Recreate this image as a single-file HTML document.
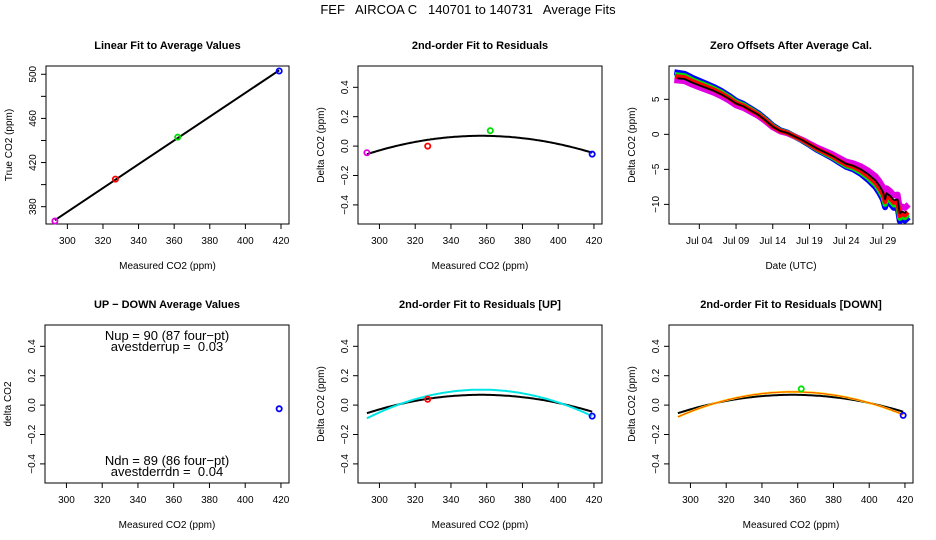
<!DOCTYPE html>
<html><head><meta charset="utf-8">
<style>
html,body{margin:0;padding:0;background:#fff;}
svg{display:block;font-family:"Liberation Sans",Arial,sans-serif;}
svg text{white-space:pre;}
</style></head>
<body>
<svg id="chart" width="936" height="540" viewBox="0 0 936 540" xmlns="http://www.w3.org/2000/svg" xml:space="preserve">
<rect width="936" height="540" fill="#fff"/>
<text x="468" y="14" font-size="13" text-anchor="middle">FEF   AIRCOA C   140701 to 140731   Average Fits</text>
</svg>
<script>
// ---- data ----
const linMeasured = [293, 327, 362, 419];
const linTrue = [367, 405, 443, 503];
const ptColors = ['#e000e0', '#ff0000', '#00e000', '#0000ff'];
const resMeasured = [293, 327, 362, 419];
const resValues = [-0.045, 0.0, 0.105, -0.055];
const fitEnds = [-0.055, 0.07, -0.045];      // black fit: left, peak, right
const upFit = [-0.09, 0.105, -0.075];        // cyan UP fit
const downFit = [-0.08, 0.09, -0.065];       // orange DOWN fit
const upMeasured = [327, 419];
const upValues = [0.04, -0.075];
const upColors = ['#ff0000', '#0000ff'];
const dnMeasured = [362, 419];
const dnValues = [0.11, -0.07];
const dnColors = ['#00e000', '#0000ff'];
const udMeasured = [419];
const udValues = [-0.025];
const zoDays = [0,1,2,3,4,5,6,7,8,9,10,11,12,13,14,15,16,17,18,19,20,21,22,23,24,25,26,27,27.5,28,28.3,28.5,29,29.5,30,30.3,30.6,31,31.2];
const zoBlack = [8.0,7.9,7.4,7.0,6.6,6.2,5.7,5.1,4.4,4.0,3.4,2.8,2.0,1.1,0.5,0.2,-0.3,-0.8,-1.4,-2.0,-2.5,-3.0,-3.6,-4.2,-4.5,-5.0,-5.7,-6.6,-7.3,-8.2,-9.3,-8.4,-8.8,-9.4,-9.3,-11.3,-11.0,-11.2,-11.0];
const offDays = [0, 8, 16, 24, 28, 31.2];
const offBlue = [0.8, 0.4, 0, -0.5, -1.1, -1.1];
const offGreen = [0.5, 0.25, 0, -0.35, -0.7, -0.7];
const offRed = [0.25, 0.1, 0, -0.15, -0.35, -0.35];
const offMagenta = [-0.3, -0.25, 0, 0.35, 0.7, 0.7];
const xTicks = [300, 320, 340, 360, 380, 400, 420];
const resYTicks = [-0.4, -0.2, 0.0, 0.2, 0.4];
const resYLabels = ['\u22120.4', '\u22120.2', '0.0', '0.2', '0.4'];
const linYTicks = [380, 400, 420, 440, 460, 480, 500];
const linYLabels = ['380', '', '420', '', '460', '', '500'];
const zoYTicks = [-10, -5, 0, 5];
const zoYLabels = ['\u221210', '\u22125', '0', '5'];
const dateTicks = [3, 8, 13, 18, 23, 28];
const dateLabels = ['Jul 04', 'Jul 09', 'Jul 14', 'Jul 19', 'Jul 24', 'Jul 29'];

const NS = 'http://www.w3.org/2000/svg';
const svg = document.getElementById('chart');
function mk(tag, attrs, parent) {
  const e = document.createElementNS(NS, tag);
  for (const k in attrs) e.setAttribute(k, attrs[k]);
  (parent || svg).appendChild(e);
  return e;
}
function txt(s, attrs, parent) { const e = mk('text', attrs, parent); e.textContent = s; return e; }

function panel(name, L, T, R, B, xd, yd, title, xlab, ylab) {
  const g = mk('g', {});
  
  
  const sx = v => L + (v - xd[0]) / (xd[1] - xd[0]) * (R - L);
  const sy = v => B - (v - yd[0]) / (yd[1] - yd[0]) * (B - T);
  const box = mk('rect', {x: L, y: T, width: R - L, height: B - T, fill: 'none', stroke: '#000', 'stroke-width': 1}, g);
  
  
  const t = txt(title, {x: (L + R) / 2, y: T - 17, 'font-size': 11, 'font-weight': 'bold', 'text-anchor': 'middle'}, g);
  
  
  const xl = txt(xlab, {x: (L + R) / 2, y: B + 45, 'font-size': 10, 'text-anchor': 'middle'}, g);
  
  
  const yl = txt(ylab, {x: 0, y: 0, 'font-size': 10, 'text-anchor': 'middle', transform: `translate(${L - 34},${(T + B) / 2}) rotate(-90)`}, g);
  
  
  return {g, sx, sy, L, T, R, B};
}
function xAxis(p, ticks, labels) {
  const ax = mk('g', {}, p.g);
  
  
  ticks.forEach((v, i) => {
    const x = p.sx(v);
    mk('line', {x1: x, x2: x, y1: p.B, y2: p.B + 5, stroke: '#000'}, ax);
    const l = txt(labels[i], {x: x, y: p.B + 20, 'font-size': 10, 'text-anchor': 'middle'}, ax);
    
    
  });
}
function yAxis(p, ticks, labels) {
  const ax = mk('g', {}, p.g);
  
  
  ticks.forEach((v, i) => {
    const y = p.sy(v);
    mk('line', {x1: p.L - 5, x2: p.L, y1: y, y2: y, stroke: '#000'}, ax);
    if (labels[i]) {
      const l = txt(labels[i], {x: 0, y: 0, 'font-size': 10, 'text-anchor': 'middle', transform: `translate(${p.L - 10},${y}) rotate(-90)`}, ax);
      
      
    }
  });
}
function pts(p, xs, ys, cols) {
  xs.forEach((x, i) => {
    const c = mk('circle', {cx: p.sx(x), cy: p.sy(ys[i]), r: 2.6, fill: 'none', stroke: cols[i], 'stroke-width': 1.8}, p.g);
    
    
  });
}
function quad(p, ends, color, w, name) {
  const x0 = 293, xm = 357, x1 = 419;
  const aL = (ends[0] - ends[1]) / Math.pow(x0 - xm, 2);
  const aR = (ends[2] - ends[1]) / Math.pow(x1 - xm, 2);
  let d = '';
  for (let x = x0; x <= x1; x += 1) {
    const a = aL + (aR - aL) * (x - x0) / (x1 - x0);
    const y = ends[1] + a * (x - xm) * (x - xm);
    d += (d ? 'L' : 'M') + p.sx(x).toFixed(1) + ',' + p.sy(y).toFixed(1);
  }
  const e = mk('path', {d: d, fill: 'none', stroke: color, 'stroke-width': w}, p.g);
  
  
}
const xD = [288, 424.5];
const resD = [-0.53, 0.545];

// Panel 1
const p1 = panel('linear-fit-panel', 46, 66, 289, 224, xD, [364.3, 507.5], 'Linear Fit to Average Values', 'Measured CO2 (ppm)', 'True CO2 (ppm)');
xAxis(p1, xTicks, xTicks.map(String));
yAxis(p1, linYTicks, linYLabels);
const n = linMeasured.length;
const mx = linMeasured.reduce((a, b) => a + b) / n, my = linTrue.reduce((a, b) => a + b) / n;
let sxy = 0, sxx = 0;
linMeasured.forEach((x, i) => { sxy += (x - mx) * (linTrue[i] - my); sxx += (x - mx) * (x - mx); });
const slope = sxy / sxx, icpt = my - slope * mx;
const fl = mk('line', {x1: p1.sx(linMeasured[0]), y1: p1.sy(icpt + slope * linMeasured[0]), x2: p1.sx(linMeasured[n - 1]), y2: p1.sy(icpt + slope * linMeasured[n - 1]), stroke: '#000', 'stroke-width': 2}, p1.g);


pts(p1, linMeasured, linTrue, ptColors);

// Panel 2
const p2 = panel('residual-fit-panel', 358, 66, 602, 224, xD, resD, '2nd-order Fit to Residuals', 'Measured CO2 (ppm)', 'Delta CO2 (ppm)');
xAxis(p2, xTicks, xTicks.map(String));
yAxis(p2, resYTicks, resYLabels);
quad(p2, fitEnds, '#000', 2, 'quadratic-fit-line');
pts(p2, resMeasured, resValues, ptColors);

// Panel 3
const p3 = panel('zero-offsets-panel', 669, 66, 913, 224, [-1.13, 32.1], [-12.8, 9.76], 'Zero Offsets After Average Cal.', 'Date (UTC)', 'Delta CO2 (ppm)');
xAxis(p3, dateTicks, dateLabels);
yAxis(p3, zoYTicks, zoYLabels);
function offAt(arr, d) {
  for (let i = 0; i < offDays.length - 1; i++) {
    if (d <= offDays[i + 1]) return arr[i] + (arr[i + 1] - arr[i]) * (d - offDays[i]) / (offDays[i + 1] - offDays[i]);
  }
  return arr[arr.length - 1];
}
[[offBlue, '#0000ff', 6, 'series-blue'], [offMagenta, '#e000e0', 6, 'series-magenta'], [offGreen, '#00e000', 5, 'series-green'], [offRed, '#ff0000', 4.5, 'series-red']].forEach(s => {
  let d = '';
  zoDays.forEach((day, i) => { d += (i ? 'L' : 'M') + p3.sx(day).toFixed(1) + ',' + p3.sy(zoBlack[i] + offAt(s[0], day)).toFixed(1); });
  const e = mk('path', {d: d, fill: 'none', stroke: s[1], 'stroke-width': s[2], 'stroke-linejoin': 'round', 'stroke-linecap': 'square'}, p3.g);
  
  
});
{
  let d = '';
  zoDays.forEach((day, i) => { d += (i ? 'L' : 'M') + p3.sx(day).toFixed(1) + ',' + p3.sy(zoBlack[i]).toFixed(1); });
  const e = mk('path', {d: d, fill: 'none', stroke: '#000', 'stroke-width': 1.8, 'stroke-linejoin': 'round'}, p3.g);
  
  
}

// Panel 4
const p4 = panel('up-down-panel', 45, 325, 289, 483, xD, resD, 'UP \u2212 DOWN Average Values', 'Measured CO2 (ppm)', 'delta CO2');
xAxis(p4, xTicks, xTicks.map(String));
yAxis(p4, resYTicks, resYLabels);
pts(p4, udMeasured, udValues, ['#0000ff']);
[['Nup = 90 (87 four\u2212pt)', 340, 'nup-annotation'], ['avestderrup =  0.03', 351, 'avestderrup-annotation'], ['Ndn = 89 (86 four\u2212pt)', 465, 'ndn-annotation'], ['avestderrdn =  0.04', 476, 'avestderrdn-annotation']].forEach(a => {
  const e = txt(a[0], {x: 167, y: a[1], 'font-size': 13, 'text-anchor': 'middle'}, p4.g);
  
  
});

// Panel 5
const p5 = panel('residual-fit-up-panel', 358, 325, 602, 483, xD, resD, '2nd-order Fit to Residuals [UP]', 'Measured CO2 (ppm)', 'Delta CO2 (ppm)');
xAxis(p5, xTicks, xTicks.map(String));
yAxis(p5, resYTicks, resYLabels);
quad(p5, fitEnds, '#000', 2, 'quadratic-fit-line');
quad(p5, upFit, '#00e5e5', 2, 'up-fit-line');
pts(p5, upMeasured, upValues, upColors);

// Panel 6
const p6 = panel('residual-fit-down-panel', 669, 325, 913, 483, xD, resD, '2nd-order Fit to Residuals [DOWN]', 'Measured CO2 (ppm)', 'Delta CO2 (ppm)');
xAxis(p6, xTicks, xTicks.map(String));
yAxis(p6, resYTicks, resYLabels);
quad(p6, fitEnds, '#000', 2, 'quadratic-fit-line');
quad(p6, downFit, '#ffd800', 2.2, 'down-fit-line');
quad(p6, downFit, '#ff3000', 0.8, 'down-fit-line-dots');
pts(p6, dnMeasured, dnValues, dnColors);
</script>
</body></html>
